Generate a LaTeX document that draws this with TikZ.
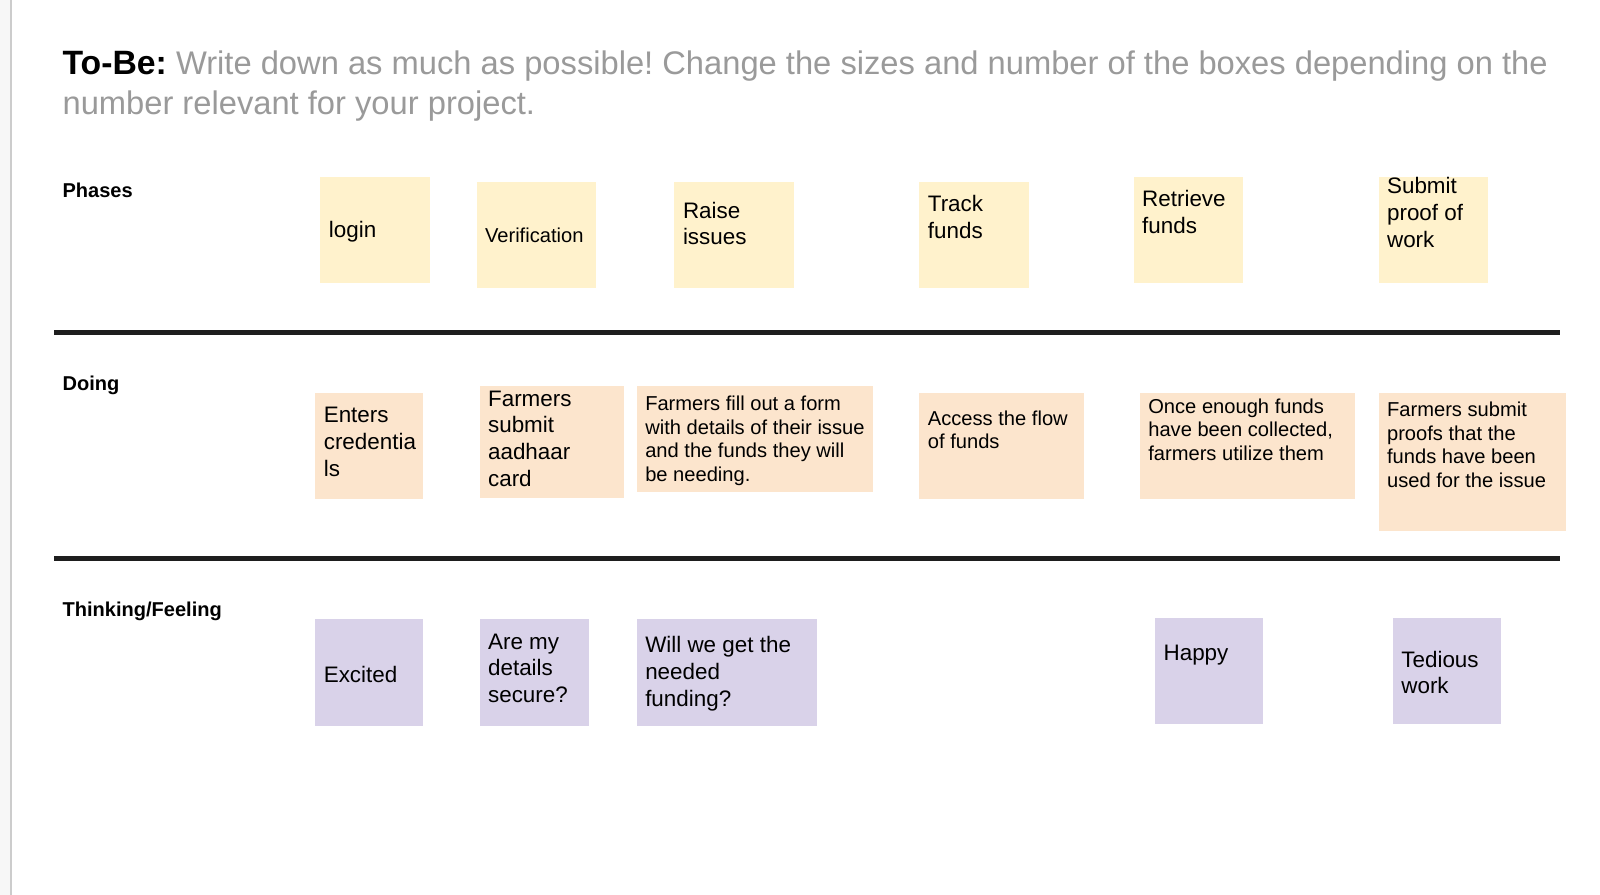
\documentclass[tikz,border=0pt]{standalone}
\usepackage{fontspec}
\setmainfont{Liberation Sans}
\usetikzlibrary{positioning}
\definecolor{phase}{HTML}{FFF2CC}
\definecolor{doing}{HTML}{FCE5CD}
\definecolor{feel}{HTML}{D9D2E9}
\definecolor{hint}{HTML}{9A9A9A}
\definecolor{rule}{HTML}{1E1E1E}
\newcommand{\pxu}{0.020408cm}
\frenchspacing
\tikzset{
	sticky/.style 2 args={rectangle,anchor=north west,inner sep=0pt,outer sep=0pt,
		minimum width=#1*\pxu,minimum height=#2*\pxu},
	note/.style={anchor=west,align=left,inner sep=0pt,font=\fontsize{12.75}{15.3}\selectfont},
	small/.style={note,font=\fontsize{11.45}{13.4}\selectfont},
	rowlabel/.style={anchor=west,inner sep=0pt,font=\fontsize{11.4}{13}\selectfont\bfseries},
	divider/.style={draw=rule,line width=2.9pt}
}

\begin{document}
\begin{tikzpicture}[x=\pxu,y=-\pxu]
			\useasboundingbox (0,0) rectangle (1568,877);
			\fill[white] (0,0) rectangle (1568,877);
			\fill[gray!6] (0,0) rectangle (10,877);
			\draw[gray!40,line width=1.2pt] (11,0) -- (11,877);
			
			% heading
			\node[anchor=north west,inner sep=0pt,align=left,
				font=\fontsize{18.6}{23.2}\selectfont] (title) at (61,49)
				{{\fontsize{19.2}{23.2}\selectfont\bfseries To-Be:} \textcolor{hint}{Write down as much as possible! Change the sizes and number of the boxes depending on the}\\
				\textcolor{hint}{number relevant for your project.}};
			
			% row labels
			\node[rowlabel] (phases) at (61,187) {Phases};
			\node[rowlabel] (doing) at (61,378) {Doing};
			\node[rowlabel] (thinking) at (61,599) {Thinking/Feeling};
			
			\draw[divider] (53,326) -- (1529,326);
			\draw[divider] (53,547) -- (1529,547);
			
			% phases
			\node[sticky={107}{104},fill=phase] (login) at (314,173) {};
			\node[sticky={117}{104},fill=phase] (verif) at (467,178) {};
			\node[sticky={117}{104},fill=phase] (raise) at (661,178) {};
			\node[sticky={107}{104},fill=phase] (track) at (901,178) {};
			\node[sticky={107}{104},fill=phase] (retrieve) at (1111,173) {};
			\node[sticky={107}{104},fill=phase] (proof) at (1351,173) {};
			\node[note] (loginT) at (322,227) {login};
			\node[small] (verifT) at (475,231) {Verification};
			\node[note] (raiseT) at (669,219) {Raise\\issues};
			\node[note] (trackT) at (909,213) {Track\\funds};
			\node[note] (retrieveT) at (1119,208) {Retrieve\\funds};
			\node[note] (proofT) at (1359,208) {Submit\\proof of\\work};
			
			% doing
			\node[sticky={106}{104},fill=doing] (enter) at (309,385) {};
			\node[sticky={142}{110},fill=doing] (aadhaar) at (470,378) {};
			\node[sticky={232}{104},fill=doing] (form) at (624,378) {};
			\node[sticky={161}{104},fill=doing] (flow) at (901,385) {};
			\node[sticky={211}{104},fill=doing] (utilize) at (1117,385) {};
			\node[sticky={184}{135},fill=doing] (proofs) at (1351,385) {};
			\node[note] (enterT) at (317,433) {Enters\\credentia\\ls};
			\node[note] (aadhaarT) at (478,430) {Farmers\\submit\\aadhaar\\card};
			\node[small] (formT) at (632,432) {Farmers fill out a form\\with details of their issue\\and the funds they will\\be needing.};
			\node[small] (flowT) at (909,421) {Access the flow\\of funds};
			\node[small] (utilizeT) at (1125,421) {Once enough funds\\have been collected,\\farmers utilize them};
			\node[small] (proofsT) at (1359,436) {Farmers submit\\proofs that the\\funds have been\\used for the issue};
			
			% thinking / feeling
			\node[sticky={106}{104},fill=feel] (excited) at (309,607) {};
			\node[sticky={107}{104},fill=feel] (secure) at (470,607) {};
			\node[sticky={177}{104},fill=feel] (funding) at (624,607) {};
			\node[sticky={106}{104},fill=feel] (happy) at (1132,606) {};
			\node[sticky={106}{104},fill=feel] (tedious) at (1365,606) {};
			\node[note] (excitedT) at (317,661) {Excited};
			\node[note] (secureT) at (478,655) {Are my\\details\\secure?};
			\node[note] (fundingT) at (632,660) {Will we get the\\needed\\funding?};
			\node[note] (happyT) at (1140,642) {Happy};
			\node[note] (tediousT) at (1373,659) {Tedious\\work};
		\end{tikzpicture}
\end{document}
